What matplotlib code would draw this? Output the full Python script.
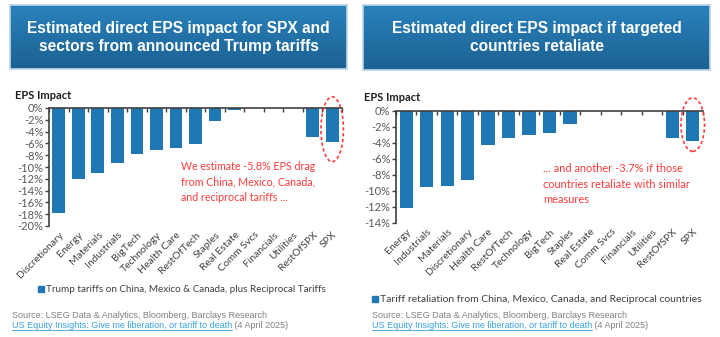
import matplotlib
matplotlib.use("Agg")
import matplotlib.pyplot as plt
import numpy as np
from matplotlib.patches import Ellipse
from matplotlib.ticker import FuncFormatter, MultipleLocator

# ---- data ----
left_sectors = ["Discretionary", "Energy", "Materials", "Industrials", "BigTech",
                "Technology", "Health Care", "RestOfTech", "Staples", "Real Estate",
                "Comm Svcs", "Financials", "Utilities", "RestOfSPX", "SPX"]
left_impact = [-17.8, -12.0, -11.0, -9.4, -7.8, -7.1, -6.8, -6.1, -2.2, -0.3,
               0.0, 0.0, 0.0, -4.9, -5.8]

right_sectors = ["Energy", "Industrials", "Materials", "Discretionary", "Health Care",
                 "RestOfTech", "Technology", "BigTech", "Staples", "Real Estate",
                 "Comm Svcs", "Financials", "Utilities", "RestOfSPX", "SPX"]
right_impact = [-12.1, -9.5, -9.4, -8.6, -4.2, -3.4, -3.0, -2.7, -1.6, 0.0,
                0.0, 0.0, 0.0, -3.4, -3.7]

left_title = "Estimated direct EPS impact for SPX and\nsectors from announced Trump tariffs"
right_title = "Estimated direct EPS impact if targeted\ncountries retaliate"
left_legend = "Trump tariffs on China, Mexico & Canada, plus Reciprocal Tariffs"
right_legend = "Tariff retaliation from China, Mexico, Canada, and Reciprocal countries"
left_note = "We estimate -5.8% EPS drag\nfrom China, Mexico, Canada,\nand reciprocal tariffs ..."
right_note = "... and another -3.7% if those\ncountries retaliate with similar\nmeasures"
source = "Source: LSEG Data & Analytics, Bloomberg, Barclays Research"
link = "US Equity Insights: Give me liberation, or tariff to death"
date = " (4 April 2025)"

BAR = "#1f78b4"
RED = "#ff3b3b"
W, H = 720, 337
SANS = ["Lato", "DejaVu Sans"]
ARIAL = ["Liberation Sans", "DejaVu Sans"]

fig = plt.figure(figsize=(W / 100, H / 100), dpi=100)
fig.patch.set_facecolor("white")


def px(x0, y0, x1, y1):
    # pixel box (top-left origin) -> figure fraction rect
    return [x0 / W, 1 - y1 / H, (x1 - x0) / W, (y1 - y0) / H]


def title_box(rect, text):
    ax = fig.add_axes(px(*rect))
    grad = np.linspace(0, 1, 64).reshape(-1, 1)
    cmap = matplotlib.colors.LinearSegmentedColormap.from_list("b", ["#2a82bb", "#1b6192"])
    ax.imshow(grad, aspect="auto", cmap=cmap, extent=[0, 1, 0, 1])
    ax.set_xticks([])
    ax.set_yticks([])
    for s in ax.spines.values():
        s.set_color("#bcd6ea")
        s.set_linewidth(1.2)
    ax.text(0.5, 0.5, text, color="white", fontsize=11.2, fontweight="bold",
            family=ARIAL, ha="center", va="center", linespacing=1.25,
            transform=ax.transAxes)


def bar_panel(rect, cats, vals, ymin, ell):
    ax = fig.add_axes(px(*rect))
    x = np.arange(len(cats))
    ax.bar(x, vals, width=0.65, color=BAR, zorder=2)
    ax.set_xlim(-0.5, len(cats) - 0.5)
    ax.set_ylim(ymin, 0)
    ax.yaxis.set_major_locator(MultipleLocator(2))
    ax.yaxis.set_major_formatter(FuncFormatter(lambda v, p: f"{v:.0f}%"))
    ax.tick_params(axis="y", direction="out", length=3, width=1, color="#404040",
                   labelsize=8, labelcolor="#595959", pad=1)
    for lab in ax.get_yticklabels():
        lab.set_family(SANS)
    ax.set_xticks(x)
    ax.set_xticklabels(cats, rotation=45, ha="right", rotation_mode="anchor",
                       fontsize=7.5, color="#404040", family=SANS)
    ax.tick_params(axis="x", which="major", length=0, pad=3)
    ax.set_xticks(np.arange(len(cats) + 1) - 0.5, minor=True)
    ax.tick_params(axis="x", which="minor", top=True, bottom=False, direction="in",
                   length=3, width=1, color="#404040")
    ax.spines["right"].set_visible(False)
    ax.spines["bottom"].set_visible(False)
    ax.spines["top"].set_color("#404040")
    ax.spines["left"].set_color("#404040")
    ax.spines["top"].set_linewidth(1.2)
    ax.spines["left"].set_linewidth(1.2)
    ax.set_facecolor("none")
    cx, cy, w, h = ell
    ax.add_patch(Ellipse((cx, cy), w, h, fill=False, ec=RED, ls=(0, (2, 1.5)),
                         lw=1.2, clip_on=False, zorder=3))
    return ax


title_box((10, 5, 347, 69), left_title)
title_box((363, 5, 710, 70), right_title)

axl = bar_panel((49, 108, 342, 226), left_sectors, left_impact, -20,
                (14, -3.6, 1.15, 11.0))
axr = bar_panel((396, 111, 703, 223), right_sectors, right_impact, -14,
                (14, -1.7, 1.15, 6.7))

# axis captions
fig.text(15 / W, 1 - 95 / H, "EPS Impact", fontsize=8, fontweight="bold",
         family=SANS, va="center", color="#202020")
fig.text(364 / W, 1 - 97 / H, "EPS Impact", fontsize=8, fontweight="bold",
         family=SANS, va="center", color="#202020")

# annotations
fig.text(181 / W, 1 - 182 / H, left_note, fontsize=7.7, color=RED, family=SANS,
         va="center", linespacing=1.5)
fig.text(543 / W, 1 - 184 / H, right_note, fontsize=7.9, color=RED, family=SANS,
         va="center", linespacing=1.5)

# legends
for (x0, y0, txt, fs) in [(38, 289, left_legend, 7.1), (372, 299, right_legend, 7.5)]:
    fig.patches.append(matplotlib.patches.Rectangle(
        (x0 / W, 1 - (y0 + 3) / H), 6 / W, 6 / H, color=BAR,
        transform=fig.transFigure, figure=fig))
    fig.text((x0 + 8) / W, 1 - y0 / H, txt, fontsize=fs, color="#404040",
             family=SANS, va="center")

# sources
for x0 in (12, 372):
    fig.text(x0 / W, 1 - 316 / H, source, fontsize=6.45, color="#808080",
             family=ARIAL, va="center")
    t = fig.text(x0 / W, 1 - 326 / H, link, fontsize=6.45, color="#3aa0e0",
                 family=ARIAL, va="center")
    fig.canvas.draw()
    bb = t.get_window_extent()
    fig.add_artist(matplotlib.lines.Line2D([bb.x0 / W, bb.x1 / W],
                                           [(bb.y0 + 0.5) / H, (bb.y0 + 0.5) / H],
                                           color="#3aa0e0", lw=0.6,
                                           transform=fig.transFigure))
    fig.text(bb.x1 / W, 1 - 326 / H, date, fontsize=6.45, color="#808080",
             family=ARIAL, va="center")

fig.savefig("out.png", dpi=100)
